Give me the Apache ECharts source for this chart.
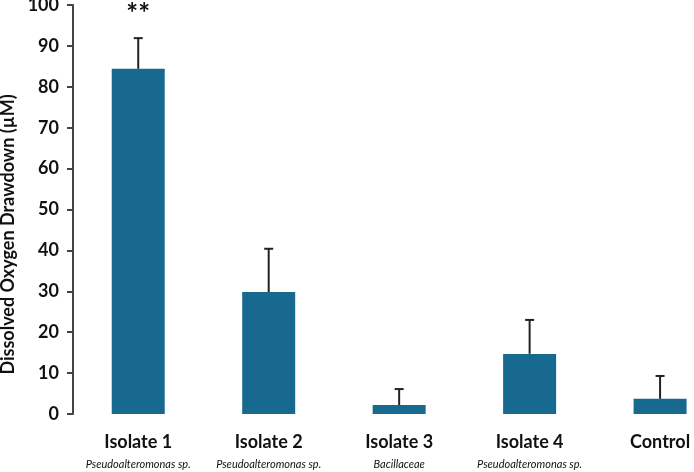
<!DOCTYPE html>
<html>
<head>
<meta charset="utf-8">
<script src="https://cdn.jsdelivr.net/npm/echarts@6/dist/echarts.min.js"></script>
<style>
  html, body { margin: 0; padding: 0; background: #fff; }
  #chart { width: 694px; height: 472px; }
</style>
</head>
<body>
<div id="chart"></div>
<script>
// data
const categories = ['Isolate 1', 'Isolate 2', 'Isolate 3', 'Isolate 4', 'Control'];
const taxa = ['Pseudoalteromonas sp.', 'Pseudoalteromonas sp.', 'Bacillaceae', 'Pseudoalteromonas sp.', ''];
const drawdown = [84.4, 29.8, 2.2, 14.7, 3.7];
const errUpper = [91.9, 40.4, 6.1, 23.0, 9.3];
const marks = ['**', '', '', '', ''];
const yTicks = [0, 10, 20, 30, 40, 50, 60, 70, 80, 90, 100];

const positions = categories.map((c, i) => i + 1);
const font = 'Lato, "Open Sans", sans-serif';

const chart = echarts.init(document.getElementById('chart'));

chart.setOption({
  animation: false,
  grid: { left: 73, right: 0, top: 5, bottom: 58, outerBoundsMode: 'none', containLabel: false },
  xAxis: {
    type: 'value',
    min: 0.5,
    max: 5.26,
    splitLine: { show: false },
    axisLine: { show: false },
    axisTick: { show: false },
    axisLabel: {
      customValues: positions,
      margin: 17,
      formatter: function (v) {
        const i = Math.round(v) - 1;
        return '{a|' + categories[i] + '}\n{b|' + (taxa[i] || ' ') + '}';
      },
      rich: {
        a: { fontFamily: font, fontWeight: 'bold', fontSize: 18, color: '#111', lineHeight: 22 },
        b: { fontFamily: font, fontStyle: 'italic', fontSize: 11, color: '#111', lineHeight: 22 }
      }
    }
  },
  yAxis: {
    type: 'value',
    min: 0,
    max: 100,
    interval: 10,
    name: 'Dissolved Oxygen Drawdown (µM)',
    nameLocation: 'middle',
    nameGap: 45,
    nameTextStyle: { fontFamily: font, fontWeight: 'bold', fontSize: 18, color: '#111', padding: [0, 50, 0, 0] },
    splitLine: { show: false },
    axisLine: { show: true, lineStyle: { color: '#444', width: 2 } },
    axisTick: { show: true, inside: false, length: 6, lineStyle: { color: '#444', width: 2 } },
    axisLabel: {
      margin: 14,
      fontFamily: font,
      fontWeight: 'bold',
      fontSize: 18,
      color: '#111',
      formatter: v => yTicks.includes(v) ? String(v) : ''
    }
  },
  series: [
    {
      type: 'bar',
      barWidth: 53,
      itemStyle: { color: '#17698F' },
      data: positions.map((p, i) => [p, drawdown[i]])
    },
    {
      type: 'custom',
      z: 1,
      data: positions.map((p, i) => [p, drawdown[i], errUpper[i], i]),
      renderItem: function (params, api) {
        const base = api.coord([api.value(0), api.value(1)]);
        const top = api.coord([api.value(0), api.value(2)]);
        const idx = api.value(3);
        const half = 4.5;
        const children = [
          { type: 'line', shape: { x1: base[0], y1: base[1], x2: top[0], y2: top[1] },
            style: { stroke: '#222', lineWidth: 2 } },
          { type: 'line', shape: { x1: top[0] - half, y1: top[1], x2: top[0] + half, y2: top[1] },
            style: { stroke: '#222', lineWidth: 2 } }
        ];
        if (marks[idx]) {
          children.push({
            type: 'text',
            style: {
              x: top[0], y: top[1] - 10,
              text: marks[idx],
              align: 'center', verticalAlign: 'bottom',
              fontFamily: font, fontWeight: 'bold', fontSize: 28, fill: '#111'
            }
          });
        }
        return { type: 'group', children: children };
      }
    }
  ]
});
</script>
</body>
</html>
